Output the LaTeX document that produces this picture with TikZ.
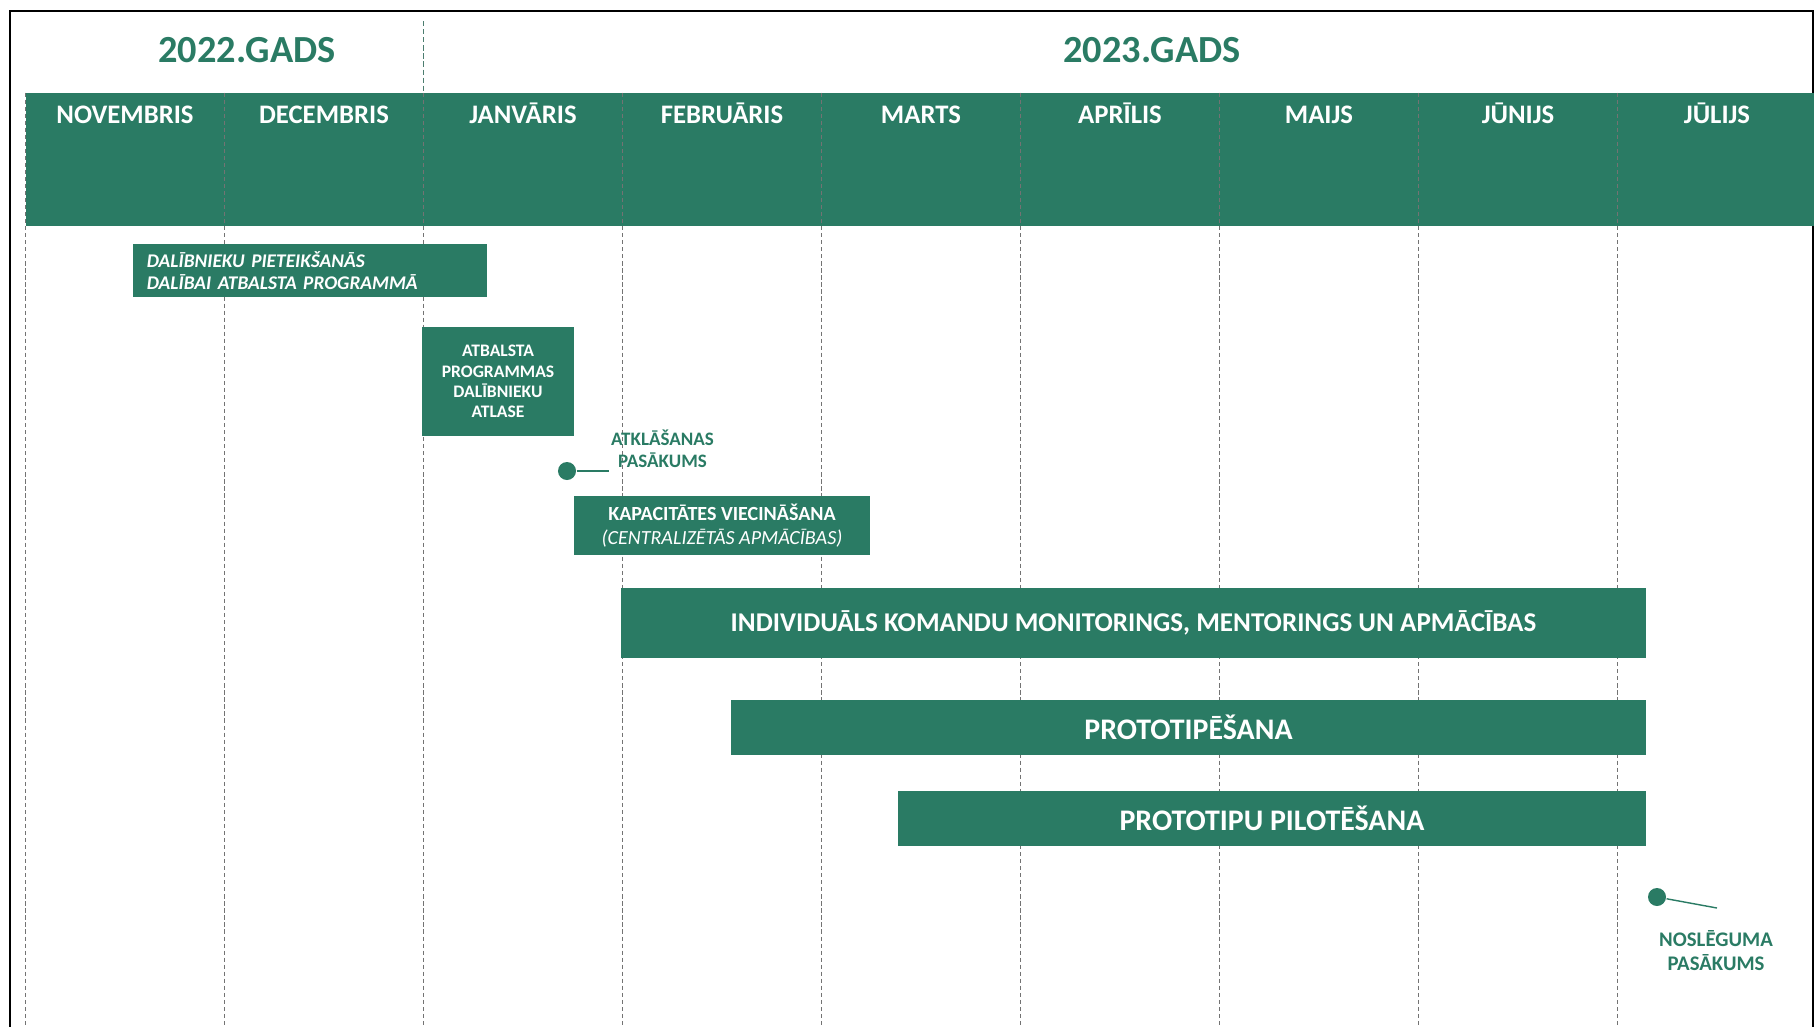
\documentclass[tikz,border=0pt]{standalone}
\usepackage{fontspec}
\setmainfont{Carlito}
\definecolor{gadsgreen}{RGB}{42,123,100}
\begin{document}
\begin{tikzpicture}[x=0.01cm,y=-0.01cm,
    bar/.style={fill=gadsgreen,text=white,inner sep=0pt,align=center},
    month/.style={anchor=base,text=white,font=\fontsize{7.6}{9}\selectfont\bfseries},
    year/.style={anchor=base,text=gadsgreen,font=\fontsize{10.9}{13}\selectfont\bfseries},
    monthline/.style={black!55,line width=0.4pt,dash pattern=on 1.2pt off 0.8pt},
    eventdot/.style={circle,fill=gadsgreen,inner sep=0pt,minimum size=0.18cm},
    eventlbl/.style={text=gadsgreen,align=center,inner sep=0pt}]
      \useasboundingbox (0,0) rectangle (1814,1026);
      % frame and header band
      \draw[line width=0.6pt] (10,1040) -- (10,11) -- (1813,11) -- (1813,1040);
      \fill[gadsgreen] (25.5,92.5) rectangle (1814,225.5);
      \draw[gadsgreen!60!gray,line width=0.3pt,dash pattern=on 1.5pt off 0.8pt] (423.5,21) -- (423.5,92.5);
      \node[year] (y2022) at (247,62) {2022.GADS};
      \node[year] (y2023) at (1152,62) {2023.GADS};
      % month columns
      \draw[monthline] (25.5,92.5) -- (25.5,1026);
      \draw[monthline] (224.5,92.5) -- (224.5,1026);
      \draw[monthline] (423.5,92.5) -- (423.5,1026);
      \draw[monthline] (622.5,92.5) -- (622.5,1026);
      \draw[monthline] (821.5,92.5) -- (821.5,1026);
      \draw[monthline] (1020.5,92.5) -- (1020.5,1026);
      \draw[monthline] (1219.5,92.5) -- (1219.5,1026);
      \draw[monthline] (1418.5,92.5) -- (1418.5,1026);
      \draw[monthline] (1617.5,92.5) -- (1617.5,1026);
      \node[month] (nov) at (125,123) {NOVEMBRIS};
      \node[month] (dec) at (324,123) {DECEMBRIS};
      \node[month] (jan) at (523,123) {JANVĀRIS};
      \node[month] (feb) at (722,123) {FEBRUĀRIS};
      \node[month] (mar) at (921,123) {MARTS};
      \node[month] (apr) at (1120,123) {APRĪLIS};
      \node[month] (mai) at (1319,123) {MAIJS};
      \node[month] (jun) at (1518,123) {JŪNIJS};
      \node[month] (jul) at (1717,123) {JŪLIJS};
      % activities
      \node[bar,minimum height=0.53cm,text width=3.26cm,inner xsep=0.14cm,align=left,
        font=\fontsize{5.5}{6.3}\selectfont\bfseries\itshape] (pieteik) at (310,270.5)
        {DALĪBNIEKU PIETEIKŠANĀS\\DALĪBAI ATBALSTA PROGRAMMĀ};
      \node[bar,minimum width=1.52cm,minimum height=1.09cm,
        font=\fontsize{5}{5.8}\selectfont\bfseries] (atlase) at (498,381.5)
        {ATBALSTA\\PROGRAMMAS\\DALĪBNIEKU\\ATLASE};
      \node[bar,minimum width=2.96cm,minimum height=0.59cm,
        font=\fontsize{5.7}{6.9}\selectfont\bfseries] (kapacit) at (722,525.5)
        {KAPACITĀTES VIECINĀŠANA\\{\mdseries\itshape (CENTRALIZĒTĀS APMĀCĪBAS)}};
      \node[bar,minimum width=10.25cm,minimum height=0.70cm,
        font=\fontsize{7.7}{9}\selectfont\bfseries] (mentor) at (1133.5,623)
        {INDIVIDUĀLS KOMANDU MONITORINGS, MENTORINGS UN APMĀCĪBAS};
      \node[bar,minimum width=9.15cm,minimum height=0.55cm,
        font=\fontsize{8.5}{10}\selectfont\bfseries] (prototip) at (1188.5,727.5)
        {PROTOTIPĒŠANA};
      \node[bar,minimum width=7.48cm,minimum height=0.55cm,
        font=\fontsize{8.5}{10}\selectfont\bfseries] (pilot) at (1272,818.5)
        {PROTOTIPU PILOTĒŠANA};
      % events
      \node[eventdot] (opendot) at (567,471) {};
      \coordinate (opentail) at (609,471);
      \draw[gadsgreen,line width=0.4pt] (opendot) -- (opentail);
      \node[eventlbl,font=\fontsize{5.4}{6.2}\selectfont\bfseries] (openlbl) at (662.5,449)
        {ATKLĀŠANAS\\PASĀKUMS};
      \node[eventdot] (closedot) at (1657,897) {};
      \coordinate (closetail) at (1717,908);
      \draw[gadsgreen,line width=0.4pt] (closedot) -- (closetail);
      \node[eventlbl,font=\fontsize{5.9}{6.8}\selectfont\bfseries] (closelbl) at (1716,951)
        {NOSLĒGUMA\\PASĀKUMS};
    \end{tikzpicture}
\end{document}
